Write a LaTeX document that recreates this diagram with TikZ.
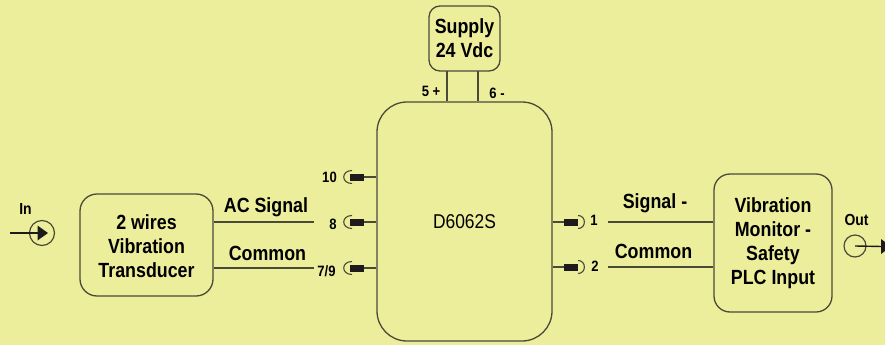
\documentclass[tikz,border=0pt]{standalone}
\usepackage{fontspec}
\setmainfont[FakeStretch=0.87]{Liberation Sans}
\definecolor{bgy}{HTML}{EDEE9B}
\definecolor{ink}{HTML}{1E1A1C}
\definecolor{edge}{HTML}{4A4A38}
\tikzset{
  x=1pt,y=-1pt,
  blockbox/.style={draw=edge,line width=1.3pt,fill=bgy,rounded corners=#1,inner sep=0pt,align=center,font=\fontsize{20.5}{24}\selectfont\bfseries},
  wire/.style={draw=edge,line width=1.4pt},
  pinbar/.style={fill=ink,draw=none},
  cup/.style={draw=edge,line width=1.1pt},
  sm/.style={inner sep=0pt,font=\fontsize{15}{16}\selectfont\bfseries},
  lab/.style={inner sep=0pt,font=\fontsize{20.5}{22}\selectfont\bfseries},
  io/.style={inner sep=0pt,font=\fontsize{16}{18}\selectfont\bfseries},
}
\newcommand{\blockat}[7]{\node[blockbox=#6,minimum width=#4pt,minimum height=#5pt] (#1) at (#2,#3) {#7};}
\begin{document}
\begin{tikzpicture}
\useasboundingbox[fill=bgy] (0,0) rectangle (885,345);
\clip (0,0) rectangle (885,345);
% blocks
\blockat{trans}{146.5}{245}{133}{102}{17pt}{\rule{0pt}{17pt}2 wires\\Vibration\\Transducer}
\blockat{main}{464.5}{221.5}{175}{239}{30pt}{}
\blockat{supply}{464.5}{38.5}{71}{65}{11pt}{Supply\\24 Vdc}
\blockat{mon}{773}{243}{118}{138}{16pt}{Vibration\\Monitor -\\Safety\\PLC Input}
\node[inner sep=0pt,font=\fontsize{20}{22}\selectfont] (dev) at (464.5,222) {D6062S};
% supply wires
\coordinate (sa) at (447,71); \coordinate (sb) at (478,71);
\draw[wire] (sa) -- (sa |- main.north);
\draw[wire] (sb) -- (sb |- main.north);
\node[sm] (l5) at (431,91) {5 +};
\node[sm] (l6) at (497,93) {6 -};
% left pins
\foreach \n/\yy in {a/177,b/222,c/268}{
  \coordinate (p\n) at (364,\yy);
  \draw[wire] (main.west |- p\n) -- (p\n);
  \fill[pinbar] (350,\yy-3.5) rectangle (364,\yy+3.5);
  \draw[cup] (352,\yy-6.5) .. controls (341,\yy-6.5) and (341,\yy+6.5) .. (352,\yy+6.5);
}
\node[sm] (l10) at (329.5,177.5) {10};
\node[sm] (l8) at (333,224) {8};
\node[sm] (l79) at (326.5,271) {7/9};
% right pins
\foreach \n/\yy in {d/222,e/267}{
  \coordinate (p\n) at (564,\yy);
  \draw[wire] (main.east |- p\n) -- (p\n);
  \fill[pinbar] (564,\yy-3.5) rectangle (578,\yy+3.5);
  \draw[cup] (578,\yy-6.5) .. controls (586.5,\yy-6.5) and (586.5,\yy+6.5) .. (578,\yy+6.5);
}
\node[sm] (l1) at (594,220) {1};
\node[sm] (l2) at (595,266) {2};
% signal wires
\coordinate (wb) at (314,222); \coordinate (wc) at (314,268);
\draw[wire] (trans.east |- wb) -- (wb);
\draw[wire] (trans.east |- wc) -- (wc);
\coordinate (wd) at (608,222); \coordinate (we) at (608,267);
\draw[wire] (wd) -- (mon.west |- wd);
\draw[wire] (we) -- (mon.west |- we);
\node[lab] (t1) at (266,207.5) {AC Signal};
\node[lab] (t2) at (267.5,253.5) {Common};
\node[lab] (t3) at (655,203.5) {Signal -};
\node[lab] (t4) at (653.5,251.5) {Common};
% in / out
\node[io] (in) at (25.5,209) {In};
\node[draw=edge,circle,line width=1.2pt,minimum size=25pt,inner sep=0pt] (cin) at (42,233) {};
\coordinate (inS) at (10,233);
\draw[wire,draw=ink] (inS) -- (cin.center);
\fill[ink] (37.5,225.5) -- (48,233) -- (37.5,240.5) -- cycle;
\node[io] (out) at (856.5,220) {Out};
\node[draw=edge,circle,line width=1.2pt,minimum size=22pt,inner sep=0pt] (cout) at (855,246) {};
\coordinate (outE) at (882,246.5);
\draw[wire,draw=ink] (cout.center) -- (outE);
\fill[ink] (881,239) -- (891,246.5) -- (881,254) -- cycle;
\end{tikzpicture}
\end{document}
